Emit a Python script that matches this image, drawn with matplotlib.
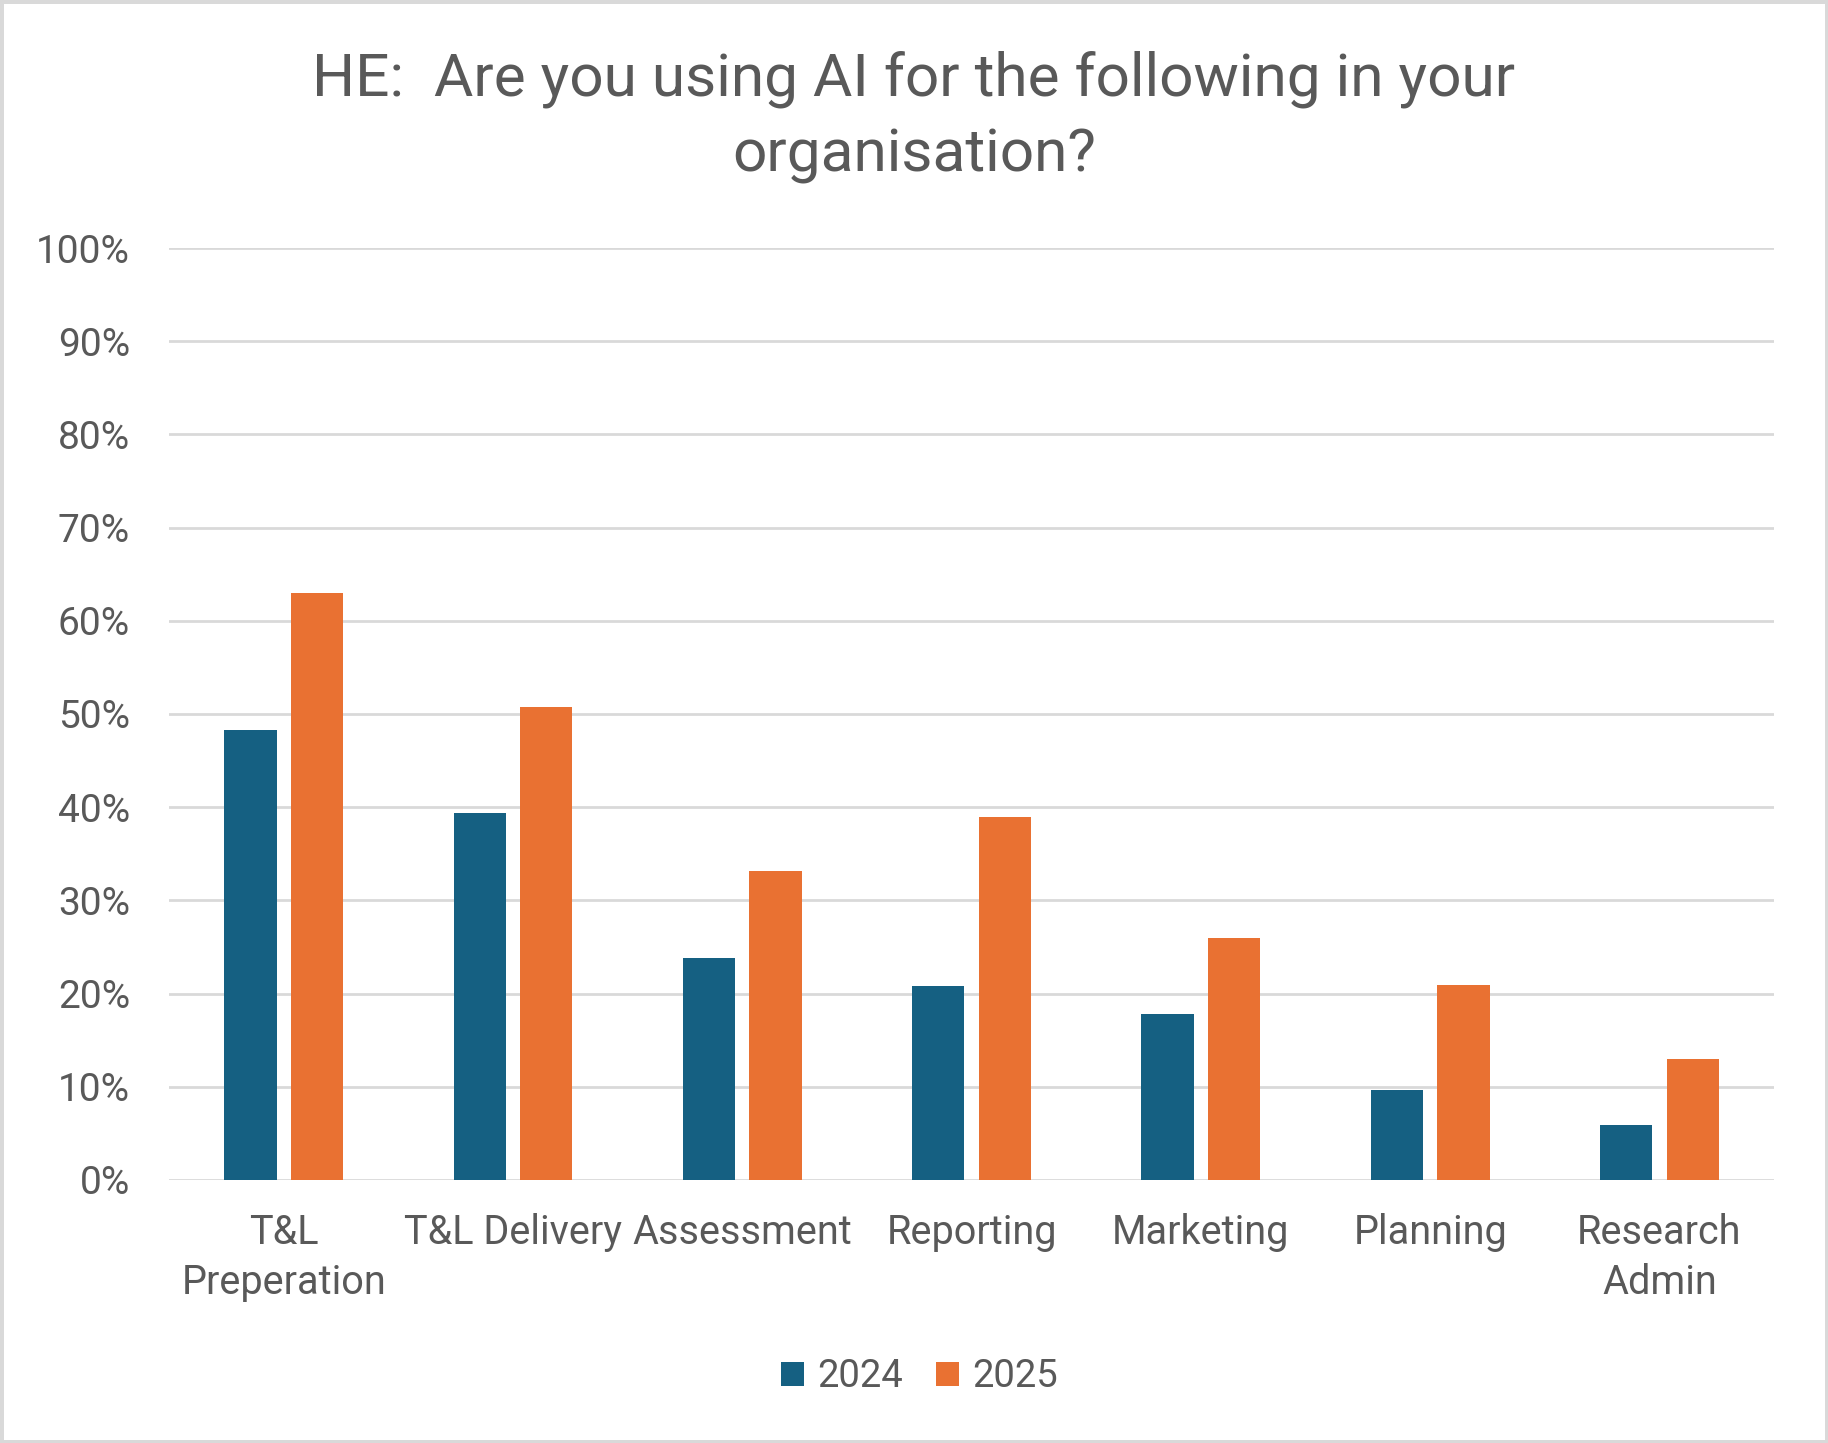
import matplotlib.pyplot as plt
import numpy as np
from matplotlib.ticker import PercentFormatter

# datos
categorias = ["T&L\nPreperation", "T&L Delivery", "Assessment", "Reporting",
              "Marketing", "Planning", "Research\nAdmin"]
valores_2024 = [48.3, 39.4, 23.8, 20.8, 17.8, 9.6, 5.9]
valores_2025 = [63.0, 50.7, 33.2, 39.0, 26.0, 20.9, 13.0]
ticks_y = [0, 10, 20, 30, 40, 50, 60, 70, 80, 90, 100]

azul = "#156082"
naranja = "#E97132"
gris_texto = "#595959"
gris_linea = "#D9D9D9"

plt.rcParams["font.family"] = ["Roboto", "DejaVu Sans"]

fig = plt.figure(figsize=(18.28, 14.43), dpi=100,
                 linewidth=5, edgecolor=gris_linea)
ax = fig.add_axes([0.0925, 0.1823, 0.878, 0.6458])

x = np.arange(len(categorias))
ancho = 0.228
desp = 0.145
ax.bar(x - desp, valores_2024, ancho, color=azul, label="2024", zorder=3)
ax.bar(x + desp, valores_2025, ancho, color=naranja, label="2025", zorder=3)

ax.set_xlim(-0.5, len(categorias) - 0.5)
ax.set_ylim(0, 100)
ax.set_yticks(ticks_y)
ax.yaxis.set_major_formatter(PercentFormatter(decimals=0))
ax.grid(axis="y", color=gris_linea, linewidth=2, zorder=0)
for s in ax.spines.values():
    s.set_visible(False)

ax.set_xticks(x)
ax.set_xticklabels(categorias, fontsize=28.5, color=gris_texto, linespacing=1.35)
ax.tick_params(axis="x", length=0, pad=24)
ax.tick_params(axis="y", length=0, pad=28, labelsize=28, labelcolor=gris_texto)

fig.suptitle("HE:  Are you using AI for the following in your\norganisation?",
             x=0.5, y=0.965, fontsize=43.5, color=gris_texto, linespacing=1.42,
             va="top")

fig.legend(loc="center", bbox_to_anchor=(0.503, 0.046), ncol=2, frameon=False,
           fontsize=27.5, labelcolor=gris_texto, handlelength=0.6,
           handleheight=0.6, handletextpad=0.35, columnspacing=0.85)

fig.savefig("out.png", dpi=100, edgecolor=fig.get_edgecolor())
